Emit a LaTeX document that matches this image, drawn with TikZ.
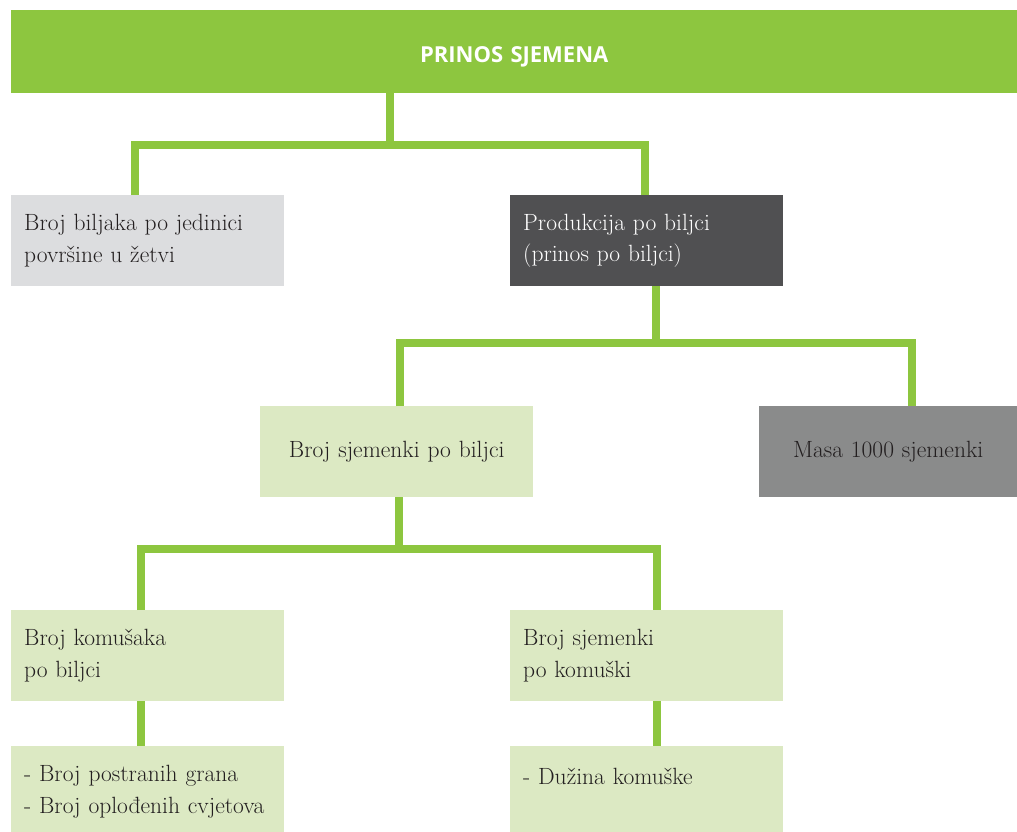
\documentclass[tikz,border=0pt]{standalone}
\usepackage{fontspec}
\newfontfamily\titlefont{Open Sans}
\definecolor{leaf}{HTML}{8DC63F}
\definecolor{palegreen}{HTML}{DCE9C3}
\definecolor{palegray}{HTML}{DCDDDF}
\definecolor{darkgray}{HTML}{505052}
\definecolor{midgray}{HTML}{8A8B8B}
\definecolor{ink}{HTML}{231F20}

\begin{document}
\begin{tikzpicture}[x=1pt, y=-1pt,
    every node/.style={font=\fontsize{23.5}{31.5}\selectfont, text=ink, anchor=north west,
        inner xsep=13pt, inner ysep=0pt, minimum height=91pt},
    box/.style={text width=247pt, align=left},
    link/.style={draw=leaf, line width=8pt, line join=miter}]
    \useasboundingbox (0,0) rectangle (1017,831);

    \node[fill=leaf, text=white, font=\titlefont\bfseries\fontsize{22}{26}\selectfont,
        text width=980pt, align=center, minimum height=83pt] (T) at (11,10) {\raisebox{-10.5pt}[0pt][0pt]{PRINOS SJEMENA}};

    \node[box, fill=palegray] (A) at (11,195) {Broj biljaka po jedinici\\površine u žetvi};
    \node[box, fill=darkgray, text=white] (B) at (510,195) {Produkcija po biljci\\(prinos po biljci)};

    \node[box, fill=palegreen, align=center] (C) at (260,406) {Broj sjemenki po biljci};
    \node[fill=midgray, text width=232pt, align=center] (D) at (759,406) {Masa 1000 sjemenki};

    \node[box, fill=palegreen] (E) at (11,610) {Broj komušaka\\po biljci};
    \node[box, fill=palegreen] (F) at (510,610) {Broj sjemenki\\po komuški};

    \node[box, fill=palegreen] (G) at (11,746) {- Broj postranih grana\\- Broj oplođenih cvjetova};
    \node[box, fill=palegreen] (H) at (510,746) {- Dužina komuške\\\mbox{}};

    \coordinate (J1) at (390,145);
    \coordinate (K1) at (135,145);
    \coordinate (K2) at (645,145);
    \coordinate (J2) at (656,343);
    \coordinate (K3) at (400,343);
    \coordinate (K4) at (912,343);
    \coordinate (J3) at (399,549);
    \coordinate (K5) at (141,549);
    \coordinate (K6) at (657,549);

    \draw[link] (T.south -| J1) -- (J1);
    \draw[link] (A.north -| K1) -- (K1) -- (K2) -- (B.north -| K2);

    \draw[link] (B.south -| J2) -- (J2);
    \draw[link] (C.north -| K3) -- (K3) -- (K4) -- (D.north -| K4);

    \draw[link] (C.south -| J3) -- (J3);
    \draw[link] (E.north -| K5) -- (K5) -- (K6) -- (F.north -| K6);

    \draw[link] (E.south -| K5) -- (G.north -| K5);
    \draw[link] (F.south -| K6) -- (H.north -| K6);
\end{tikzpicture}
\end{document}
